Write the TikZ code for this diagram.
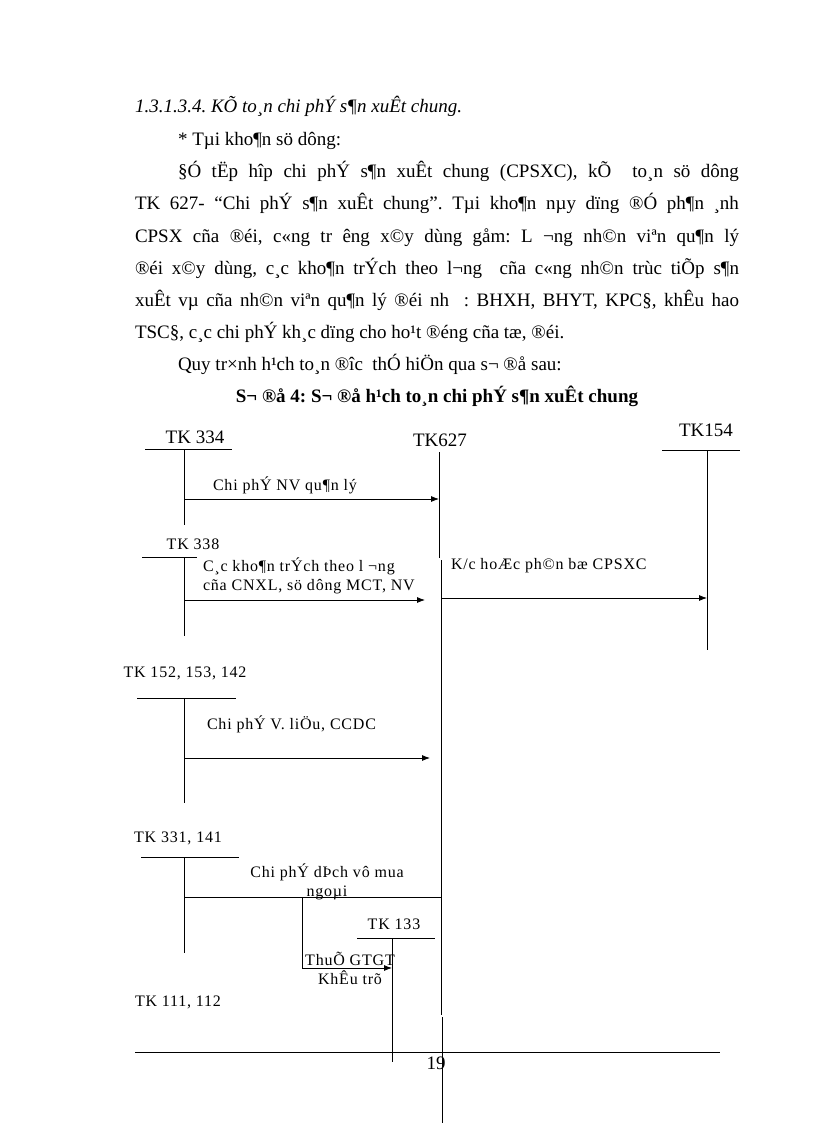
\documentclass[tikz,border=0pt]{standalone}
\usepackage{fontspec}
\setmainfont{Liberation Serif}
\newfontfamily\diagfont{Liberation Serif}[LetterSpace=5]
\usepackage{tikz}
\usetikzlibrary{arrows.meta, positioning}
\frenchspacing

\begin{document}
\begin{tikzpicture}
            [
                x=1pt, y=-1pt,
                every node/.style={inner sep=0pt, outer sep=0pt},
                body/.style={anchor=base west, font=\fontsize{19}{23}\selectfont},
                bigacc/.style={font=\fontsize{19}{23}\selectfont},
                acc/.style={font=\diagfont\fontsize{16}{19}\selectfont},
                flow/.style={font=\diagfont\fontsize{16}{19}\selectfont},
                tline/.style={line width=0.8pt},
                post/.style={line width=0.8pt, -{Latex[length=8pt, width=6pt]}}
            ]
            \useasboundingbox (0,0) rectangle (816,1123);
            % text above the diagram
            \node [body] (heading) at (135,113) {\itshape 1.3.1.3.4. KÕ to¸n chi phÝ s¶n xuÊt chung.};
            \node [body] (usedacc) at (178,146) {* Tµi kho¶n sö dông:};
            \node [body] (parA) at (178,178) {\makebox[561pt][s]{§Ó tËp hîp chi phÝ s¶n xuÊt chung (CPSXC), kÕ \ to¸n sö dông}};
            \node [body] (parB) at (135,210) {\makebox[604pt][s]{TK 627- “Chi phÝ s¶n xuÊt chung”. Tµi kho¶n nµy dïng ®Ó ph¶n ¸nh}};
            \node [body] (parC) at (135,242) {\makebox[604pt][s]{CPSX cña ®éi, c«ng tr êng x©y dùng gåm: L ¬ng nh©n viªn qu¶n lý}};
            \node [body] (parD) at (135,274) {\makebox[604pt][s]{®éi x©y dùng, c¸c kho¶n trÝch theo l¬ng \ cña c«ng nh©n trùc tiÕp s¶n}};
            \node [body] (parE) at (135,306) {\makebox[604pt][s]{xuÊt vµ cña nh©n viªn qu¶n lý ®éi nh \ : BHXH, BHYT, KPC§, khÊu hao}};
            \node [body] (parF) at (135,338) {TSC§, c¸c chi phÝ kh¸c dïng cho ho¹t ®éng cña tæ, ®éi.};
            \node [body] (process) at (178,370) {Quy tr×nh h¹ch to¸n ®îc \ thÓ hiÖn qua s¬ ®å sau:};
            \node [body, anchor=base] (title) at (437,402) {\bfseries S¬ ®å 4: S¬ ®å h¹ch to¸n chi phÝ s¶n xuÊt chung};

            % accounts
            \node [bigacc] (tk334) at (195,437) {TK 334};
            \node [bigacc] (tk627) at (440,440) {TK627};
            \node [bigacc] (tk154) at (706,430) {TK154};
            \node [acc] (tk338) at (193,544) {TK 338};
            \node [acc] (tk152) at (185,673) {TK 152, 153, 142};
            \node [acc] (tk331) at (178,838) {TK 331, 141};
            \node [acc] (tk133) at (394,924) {TK 133};
            \node [acc] (tk111) at (178,1002) {TK 111, 112};

            \coordinate (u334a) at (145,449); \coordinate (u334b) at (232,449);
            \coordinate (v334a) at (184,449); \coordinate (v334b) at (184,525);
            \coordinate (v627a) at (439,452); \coordinate (v627b) at (439,558);
            \coordinate (v627c) at (441,560); \coordinate (v627d) at (441,1015);
            \coordinate (v627e) at (442,1017); \coordinate (v627f) at (442,1123);
            \coordinate (u154a) at (662,450); \coordinate (u154b) at (740,450);
            \coordinate (v154a) at (707,450); \coordinate (v154b) at (707,650);
            \coordinate (u338a) at (142,557); \coordinate (u338b) at (197,557);
            \coordinate (v338a) at (184,557); \coordinate (v338b) at (184,636);
            \coordinate (u152a) at (137,698); \coordinate (u152b) at (236,698);
            \coordinate (v152a) at (184,698); \coordinate (v152b) at (184,803);
            \coordinate (u331a) at (141,857); \coordinate (u331b) at (239,857);
            \coordinate (v331a) at (184,857); \coordinate (v331b) at (184,953);
            \coordinate (u133a) at (357,938); \coordinate (u133b) at (435,938);
            \coordinate (v133a) at (392,938); \coordinate (v133b) at (392,1062);
            \coordinate (footA) at (135,1052); \coordinate (footB) at (720,1052);

            \draw [tline] (u334a) -- (u334b) (v334a) -- (v334b);
            \draw [tline] (v627a) -- (v627b) (v627c) -- (v627d) (v627e) -- (v627f);
            \draw [tline] (u154a) -- (u154b) (v154a) -- (v154b);
            \draw [tline] (u338a) -- (u338b) (v338a) -- (v338b);
            \draw [tline] (u152a) -- (u152b) (v152a) -- (v152b);
            \draw [tline] (u331a) -- (u331b) (v331a) -- (v331b);
            \draw [tline] (u133a) -- (u133b) (v133a) -- (v133b);

            % postings
            \coordinate (p1a) at (184,499); \coordinate (p1b) at (439,499);
            \coordinate (p2a) at (184,600); \coordinate (p2b) at (425,600);
            \coordinate (p3a) at (441,598); \coordinate (p3b) at (707,598);
            \coordinate (p4a) at (184,758); \coordinate (p4b) at (430,758);
            \coordinate (p5a) at (184,897); \coordinate (p5b) at (442,897);
            \coordinate (p6a) at (302,897); \coordinate (p6b) at (302,968);
            \coordinate (p6c) at (392,968);
            \draw [post] (p1a) -- (p1b);
            \draw [post] (p2a) -- (p2b);
            \draw [post] (p3a) -- (p3b);
            \draw [post] (p4a) -- (p4b);
            \draw [tline] (p5a) -- (p5b);
            \draw [post] (p6a) -- (p6b) -- (p6c);

            \node [flow, anchor=west] (salary) at (213,485) {Chi phÝ NV qu¶n lý};
            \node [flow, anchor=west, align=left] (deduct) at (203,576) {C¸c kho¶n trÝch theo l ¬ng\\cña CNXL, sö dông MCT, NV};
            \node [flow, anchor=west] (transfer) at (451,566) {K/c hoÆc ph©n bæ CPSXC};
            \node [flow, anchor=west] (material) at (207,724) {Chi phÝ V. liÖu, CCDC};
            \node [flow, align=center] (service) at (327,882) {Chi phÝ dÞch vô mua\\ngoµi};
            \node [flow, align=center] (vat) at (350,968) {ThuÕ GTGT\\KhÊu trõ};

            % page foot
            \draw [tline] (footA) -- (footB);
            \node [bigacc] (pageno) at (436,1063) {19};
        \end{tikzpicture}
\end{document}
